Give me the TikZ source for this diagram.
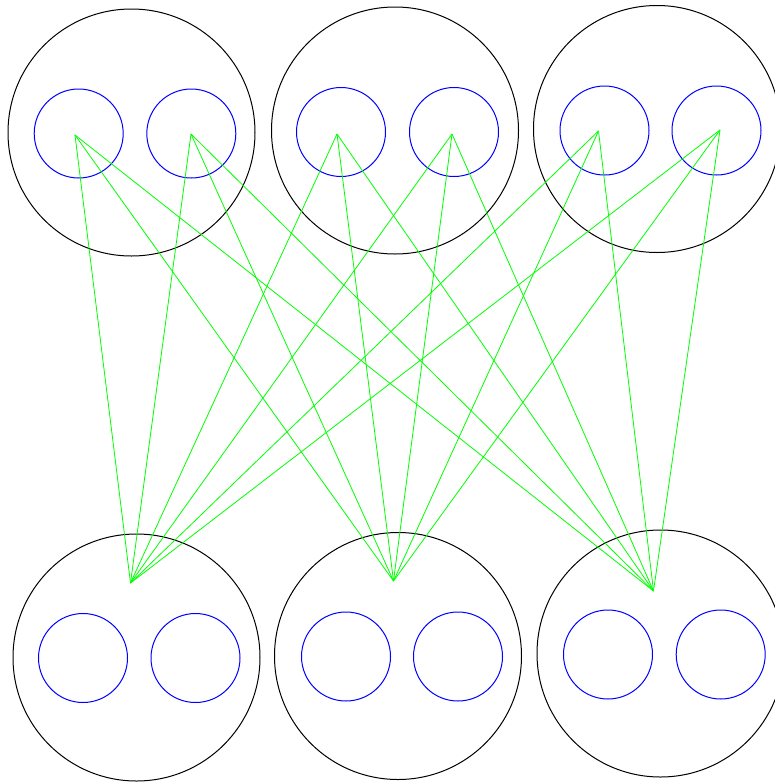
\documentclass[tikz,border=0pt]{standalone}
\begin{document}
\begin{tikzpicture}[x=1pt,y=-1pt,
  big/.style={circle,draw=black,line width=1pt,minimum size=247pt,inner sep=0pt},
  small/.style={circle,draw={rgb,255:red,0;green,0;blue,255},line width=1pt,minimum size=89pt,inner sep=0pt},
  link/.style={draw={rgb,255:red,0;green,255;blue,0},line width=0.8pt}]
\useasboundingbox (0,0) rectangle (775,782);
% top big circles
\node[big] (T1) at (131.5,132.5) {};
\node[big] (T2) at (395,130.5) {};
\node[big] (T3) at (657,129) {};
% bottom big circles
\node[big] (B1) at (136.5,657.5) {};
\node[big] (B2) at (398,656) {};
\node[big] (B3) at (660.5,653.5) {};
% small circles top
\node[small] (t1a) at (78.7,133.5) {};
\node[small] (t1b) at (191.3,133.5) {};
\node[small] (t2a) at (341,132) {};
\node[small] (t2b) at (454,132) {};
\node[small] (t3a) at (604.5,130.5) {};
\node[small] (t3b) at (716.5,130.5) {};
% small circles bottom
\node[small] (b1a) at (83,658) {};
\node[small] (b1b) at (195.5,658) {};
\node[small] (b2a) at (346,656.5) {};
\node[small] (b2b) at (458,656.5) {};
\node[small] (b3a) at (608,654.5) {};
\node[small] (b3b) at (720.7,654.5) {};
% apex points
\coordinate (p1) at (75,135);
\coordinate (p2) at (191,134);
\coordinate (p3) at (337,134);
\coordinate (p4) at (452,134);
\coordinate (p5) at (598.5,131);
\coordinate (p6) at (720,130);
\coordinate (q1) at (130.5,583);
\coordinate (q2) at (393.5,581);
\coordinate (q3) at (653.5,591);
\foreach \p in {p1,p2,p3,p4,p5,p6}{
  \foreach \q in {q1,q2,q3}{
    \path[link] (\p) -- (\q);
  }
}
\end{tikzpicture}
\end{document}
